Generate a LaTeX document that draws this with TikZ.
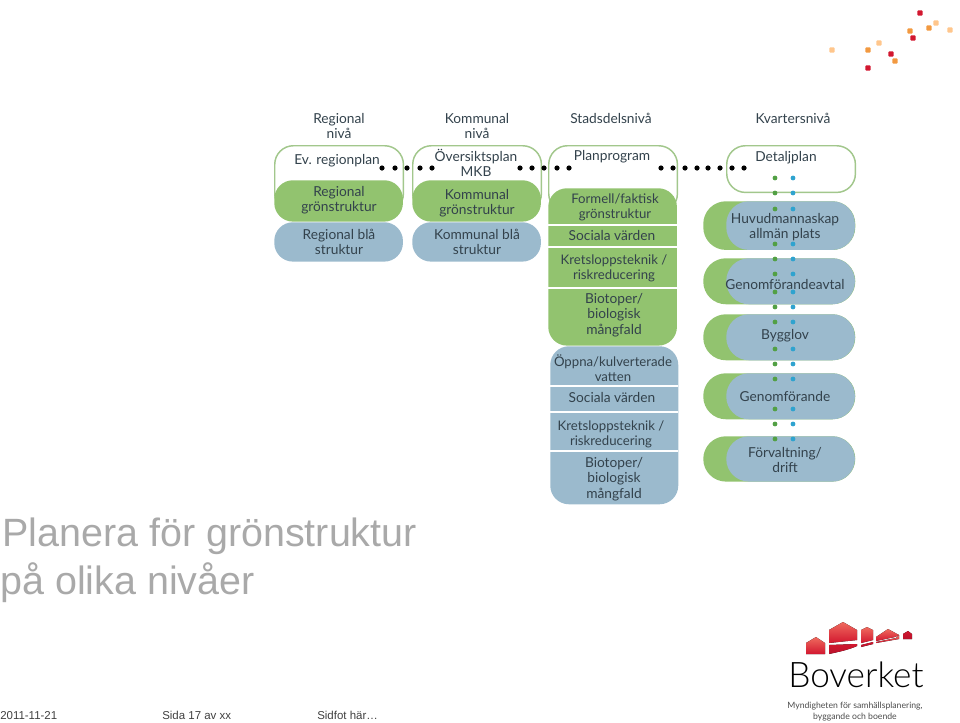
\documentclass[tikz,border=0pt]{standalone}
\usepackage{fontspec}
\setmainfont{Liberation Sans}
\newfontfamily\planfont{Lato}
\newfontfamily\logofont{Lato Light}
\usetikzlibrary{positioning}
\definecolor{planGreen}{HTML}{92C36F}
\definecolor{planBlue}{HTML}{9BBACD}
\definecolor{planLine}{HTML}{A2C78C}
\definecolor{planText}{HTML}{33424C}
\definecolor{dotGreen}{HTML}{52A044}
\definecolor{dotBlue}{HTML}{2FA3CF}
\definecolor{titleGray}{HTML}{A9A9A9}
\definecolor{logoRed}{HTML}{D2172F}
\definecolor{logoLight}{HTML}{EF6A5E}
\definecolor{logoDark}{HTML}{B8122C}
\tikzset{
  plantext/.style={text=planText,font=\planfont\fontsize{10.3}{11.4}\selectfont,align=center,inner sep=0pt},
  narrowtext/.style={plantext,font=\planfont\fontsize{9.9}{11.4}\selectfont},
  levelbox/.style={anchor=north west,minimum width=96.5pt,inner sep=0pt,rounded corners=14pt},
  outlinebox/.style={levelbox,draw=planLine,line width=1.1pt,fill=white},
  greenbox/.style={levelbox,fill=planGreen},
  bluebox/.style={levelbox,fill=planBlue},
  sidebox/.style={greenbox,minimum width=114pt,rounded corners=17pt},
  slidetitle/.style={anchor=base west,inner sep=0pt,text=titleGray,font=\fontsize{29.6}{30}\selectfont},
  slidefoot/.style={anchor=base west,inner sep=0pt,text=black!75,font=\fontsize{8.6}{10}\selectfont},
  band/.style={white,line width=1.3pt},
  housered/.style={top color=logoLight,bottom color=logoRed},
  housedark/.style={top color=logoRed,bottom color=logoDark},
}
\begin{document}
\begin{tikzpicture}[x=0.75pt,y=-0.75pt]
\useasboundingbox (0,0) rectangle (960,722);

% level headings
\node [plantext] (headRegional) at (339,126) {Regional\\nivå};
\node [plantext] (headKommunal) at (477,126) {Kommunal\\nivå};
\node [plantext] (headStadsdel) at (611,118) {Stadsdelsnivå};
\node [plantext] (headKvarter) at (793,118) {Kvartersnivå};

% regional
\node [outlinebox,minimum height=50pt] (evPlan) at (274,145) {};
\node [plantext] (evPlanText) at (337,161) {Ev. regionplan};
\node [greenbox,minimum height=31pt] (regGreen) at (274,180) {};
\node [bluebox,minimum height=29.5pt] (regBlue) at (274,222) {};
\node [plantext] (regGreenText) at (339,200) {Regional\\grönstruktur};
\node [plantext] (regBlueText) at (339,242) {Regional blå\\struktur};

% kommunal
\node [outlinebox,minimum height=50pt] (oversikt) at (412,145) {};
\node [plantext] (oversiktText) at (476,163) {Översiktsplan\\MKB};
\node [greenbox,minimum height=31pt] (komGreen) at (412,180) {};
\node [bluebox,minimum height=29.5pt] (komBlue) at (412,222) {};
\node [plantext] (komGreenText) at (477,203) {Kommunal\\grönstruktur};
\node [plantext] (komBlueText) at (477,242) {Kommunal blå\\struktur};

% stadsdel
\node [outlinebox,minimum height=50pt] (planProg) at (548,145) {};
\node [plantext] (planProgText) at (612,157) {Planprogram};
\node [greenbox,minimum height=118pt] (stadGreen) at (548,188) {};
\node [bluebox,minimum width=96pt,minimum height=118.5pt] (stadBlue) at (550,346) {};
\draw [band] (548,225) -- (678,225);
\draw [band] (548,247) -- (678,247);
\draw [band] (548,288) -- (678,288);
\draw [band] (550,386) -- (678,386);
\draw [band] (550,412) -- (678,412);
\draw [band] (550,451) -- (678,451);
\node [narrowtext] (formell) at (615,207) {Formell/faktisk\\grönstruktur};
\node [plantext] (socGreen) at (612,235) {Sociala värden};
\node [narrowtext] (kretsGreen) at (614,268) {Kretsloppsteknik /\\riskreducering};
\node [plantext] (bioGreen) at (614,315) {Biotoper/\\biologisk\\mångfald};
\node [narrowtext] (oppna) at (613,368) {Öppna/kulverterade\\vatten};
\node [plantext] (socBlue) at (612,397) {Sociala värden};
\node [narrowtext] (kretsBlue) at (611,434) {Kretsloppsteknik /\\riskreducering};
\node [plantext] (bioBlue) at (614,479) {Biotoper/\\biologisk\\mångfald};

% kvarter
\node [outlinebox,minimum height=35pt] (detalj) at (726,145) {};
\node [plantext] (detaljText) at (786,158) {Detaljplan};
\foreach \boxname/\boxtop/\boxhigh in {huvud/201/36.5,avtal/258/34.5,bygg/314/34.5,genom/373/34.5,drift/436/34}{
  \node [sidebox,minimum height=\boxhigh pt] (\boxname Side) at (703,\boxtop) {};
  \node [bluebox,minimum height=\boxhigh pt,rounded corners=17pt] (\boxname) at (726,\boxtop) {};
}

% dots
\foreach \x in {382,395,407,420,432,520,532,544,557,569,661,673,685,697,708,720,732,744}
  \fill (\x,168) circle (2.6);
\foreach \y in {178,193,209,244,259,274,292,307,322,349,364,379,409,424,439}{
  \fill [dotGreen] (775,\y) circle (2.4);
  \fill [dotBlue] (793,\y) circle (2.4);
}

% box labels over the dots
\foreach \boxname/\texty/\boxlabel in {huvud/227/{Huvudmannaskap\\allmän plats},
    avtal/284/{Genomförandeavtal},
    bygg/336/{Bygglov},
    genom/396/{Genomförande},
    drift/460/{Förvaltning/\\drift}}
  \node [plantext] (\boxname Text) at (785,\texty) {\boxlabel};

% top right squares
\foreach \x/\y/\c in {920/13/logoRed,913/38/logoRed,891/54/logoRed,868/68/logoRed,
    910/31/orange!75!brown!80,929/28/orange!75!brown!80,868/50/orange!75!brown!80,895/61/orange!75!brown!80,
    936/23/orange!45,950/30/orange!45,879/43/orange!45,832/50/orange!45}
  \fill [\c,rounded corners=0.6] (\x-2.6,\y-2.6) rectangle (\x+2.6,\y+2.6);

% slide text
\node [slidetitle] (titleOne) at (2,546) {Planera för grönstruktur};
\node [slidetitle] (titleTwo) at (0,594) {på olika nivåer};
\node [slidefoot] (footDate) at (0,719) {2011-11-21};
\node [slidefoot] (footPage) at (162,719) {Sida 17 av xx};
\node [slidefoot] (footText) at (317,719) {Sidfot här…};

% logo
\fill [housered] (806,643) -- (816,637) -- (825,643) -- (825,654) -- (806,654) -- cycle;
\fill [housered] (829,630) -- (843,622) -- (857,630) -- (857,640) -- (829,643) -- cycle;
\fill [housedark] (829,645) -- (857,644) -- (857,646) .. controls (848,650) and (838,652) .. (829,654) -- cycle;
\fill [housered] (861,630) -- (867,627) -- (873,630) -- (873,640) -- (861,643) -- cycle;
\fill [housedark] (861,645) -- (873,642) -- (873,644) -- (861,647) -- cycle;
\fill [housered] (876,637) -- (888,629) -- (899,635) -- (895,637) -- (876,641) -- cycle;
\fill [housered] (876,642) -- (896,638) -- (899,635) -- (899,639) -- (876,643) -- cycle;
\fill [housedark] (903,634) -- (908,631) -- (912,634) -- (912,639) -- (903,639) -- cycle;
\node [anchor=base west,inner sep=0pt,text=black,font=\logofont\fontsize{26.4}{27}\selectfont] (logoName) at (788,687) {Boverket};
\node [anchor=base,inner sep=0pt,text=black!70,align=center,font=\planfont\fontsize{6.5}{8.2}\selectfont] (logoTag) at (855,719) {Myndigheten för samhällsplanering,\\byggande och boende};
\end{tikzpicture}
\end{document}
